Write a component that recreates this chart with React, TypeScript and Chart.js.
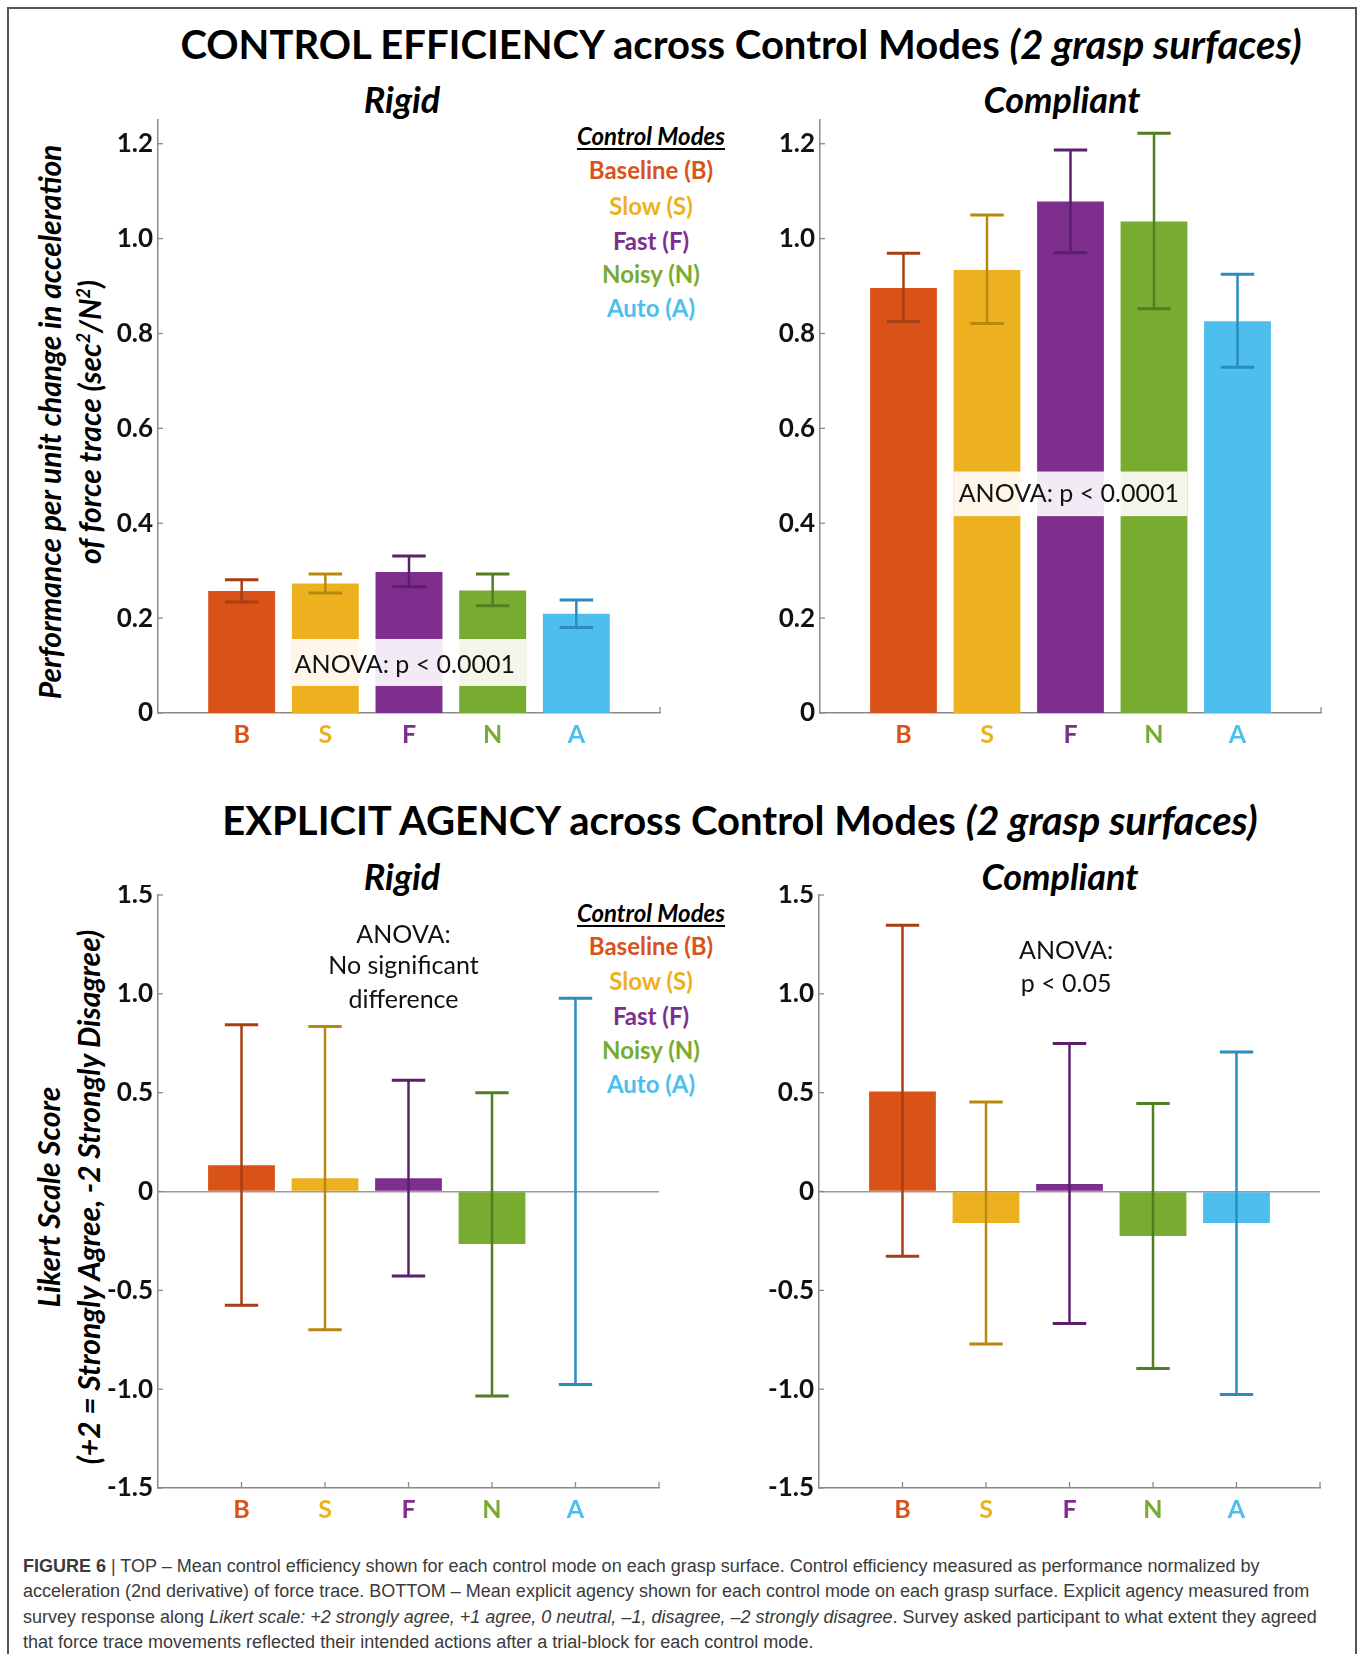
import React, { useEffect, useRef } from 'react';
import { Chart, registerables } from 'chart.js';

Chart.register(...registerables);

const FONT = 'Lato, "Open Sans", "Noto Sans", sans-serif';
const CAP_FONT = '"Liberation Sans", Arial, Helvetica, sans-serif';

// ---------- data ----------
const categories = ['B', 'S', 'F', 'N', 'A'];
const modeNames = ['Baseline (B)', 'Slow (S)', 'Fast (F)', 'Noisy (N)', 'Auto (A)'];
const modeColors = ['#D95319', '#EDB120', '#7E2F8E', '#77AC30', '#4DBEEE'];
const errColors = ['#A83F12', '#B8890F', '#5C1F6B', '#527E22', '#2B8CBE'];

const effTicks = [0, 0.2, 0.4, 0.6, 0.8, 1.0, 1.2];
const agTicks = [-1.5, -1.0, -0.5, 0, 0.5, 1.0, 1.5];

const effRigidMean = [0.257, 0.273, 0.297, 0.258, 0.209];
const effRigidLow = [0.234, 0.253, 0.266, 0.226, 0.180];
const effRigidHigh = [0.281, 0.293, 0.331, 0.293, 0.238];

const effCompMean = [0.896, 0.934, 1.078, 1.036, 0.826];
const effCompLow = [0.825, 0.821, 0.970, 0.852, 0.729];
const effCompHigh = [0.969, 1.050, 1.187, 1.222, 0.925];

const agRigidMean = [0.133, 0.067, 0.067, -0.265, 0.0];
const agRigidLow = [-0.575, -0.70, -0.428, -1.035, -0.976];
const agRigidHigh = [0.843, 0.835, 0.563, 0.50, 0.978];

const agCompMean = [0.506, -0.159, 0.038, -0.225, -0.159];
const agCompLow = [-0.327, -0.772, -0.668, -0.895, -1.027];
const agCompHigh = [1.347, 0.453, 0.749, 0.445, 0.706];

const effRigidNotes = [{ x: 2.95, y: 0.101, text: 'ANOVA: p < 0.0001' }];
const effRigidBoxes = [{ x0: 1.6, x1: 4.4, y0: 0.057, y1: 0.156 }];
const effCompNotes = [{ x: 2.98, y: 0.461, text: 'ANOVA: p < 0.0001' }];
const effCompBoxes = [{ x0: 1.6, x1: 4.4, y0: 0.415, y1: 0.509 }];
const agRigidNotes = [
  { x: 2.94, y: 1.30, text: 'ANOVA:' },
  { x: 2.94, y: 1.14, text: 'No significant' },
  { x: 2.94, y: 0.97, text: 'difference' },
];
const agCompNotes = [
  { x: 2.96, y: 1.217, text: 'ANOVA:' },
  { x: 2.96, y: 1.049, text: 'p < 0.05' },
];

const AXIS = '#8a8a8a';

type Note = { x: number; y: number; text: string };
type Box = { x0: number; x1: number; y0: number; y1: number };

type PanelProps = {
  left: number;
  top: number;
  width: number;
  height: number;
  yMin: number;
  yMax: number;
  yTicks: number[];
  mean: number[];
  low: number[];
  high: number[];
  zeroLine: boolean;
  notes: Note[];
  boxes: Box[];
};

function Panel(p: PanelProps) {
  const ref = useRef<HTMLCanvasElement>(null);
  useEffect(() => {
    if (!ref.current) return;
    const labels = ['', ...categories, ''];
    const chart = new Chart(ref.current, {
      type: 'bar',
      data: {
        labels,
        datasets: [
          {
            data: [null, ...p.mean, null] as any,
            backgroundColor: ['rgba(0,0,0,0)', ...modeColors, 'rgba(0,0,0,0)'],
            borderWidth: 0,
            barPercentage: 0.8,
            categoryPercentage: 1,
          },
        ],
      },
      options: {
        animation: false,
        responsive: false,
        maintainAspectRatio: false,
        devicePixelRatio: 1,
        events: [],
        layout: { padding: { left: 0, right: 10, top: 10, bottom: 0 } },
        plugins: { legend: { display: false }, tooltip: { enabled: false } },
        scales: {
          x: {
            type: 'category',
            offset: false,
            grid: { display: false, drawTicks: false },
            border: { display: true, color: AXIS, width: 1.5 },
            ticks: {
              autoSkip: false,
              maxRotation: 0,
              minRotation: 0,
              padding: 7,
              font: { family: FONT, size: 25, weight: 'bold' },
              color: (c: any) => modeColors[c.index - 1] ?? 'rgba(0,0,0,0)',
            },
            afterFit: (s: any) => {
              s.height = 50;
              s.paddingLeft = 0;
              s.paddingRight = 0;
            },
          },
          y: {
            min: p.yMin,
            max: p.yMax,
            grid: {
              display: p.zeroLine,
              drawTicks: false,
              lineWidth: 1.5,
              color: (c: any) => (c.tick && c.tick.value === 0 ? '#9a9a9a' : 'rgba(0,0,0,0)'),
            },
            border: { display: true, color: AXIS, width: 1.5 },
            ticks: {
              padding: 5,
              font: { family: FONT, size: 26, weight: 'bold' },
              color: '#111',
              callback: (v: any) => (Number(v) === 0 ? '0' : Number(v).toFixed(1)),
            },
            afterBuildTicks: (s: any) => {
              s.ticks = p.yTicks.map((v) => ({ value: v }));
            },
            afterFit: (s: any) => {
              s.width = 58;
              s.paddingTop = 0;
              s.paddingBottom = 0;
            },
          },
        },
      },
      plugins: [
        {
          id: 'inTicks',
          beforeDatasetsDraw(c: any) {
            const { ctx, chartArea, scales } = c;
            ctx.save();
            ctx.strokeStyle = AXIS;
            ctx.lineWidth = 1.3;
            for (const v of p.yTicks) {
              const py = scales.y.getPixelForValue(v);
              ctx.beginPath();
              ctx.moveTo(chartArea.left, py);
              ctx.lineTo(chartArea.left + 5, py);
              ctx.stroke();
            }
            for (let i = 1; i <= 6; i++) {
              const px = scales.x.getPixelForValue(i);
              ctx.beginPath();
              ctx.moveTo(px, chartArea.bottom);
              ctx.lineTo(px, chartArea.bottom - 6);
              ctx.stroke();
            }
            ctx.restore();
          },
        },
        {
          id: 'notesAndErr',
          afterDatasetsDraw(c: any) {
            const { ctx, scales } = c;
            const xs = scales.x;
            const ys = scales.y;
            ctx.save();
            for (const b of p.boxes) {
              const x0 = xs.getPixelForValue(b.x0);
              const x1 = xs.getPixelForValue(b.x1);
              const y0 = ys.getPixelForValue(b.y0);
              const y1 = ys.getPixelForValue(b.y1);
              ctx.fillStyle = 'rgba(255,255,255,0.9)';
              ctx.fillRect(x0, y1, x1 - x0, y0 - y1);
            }
            ctx.fillStyle = '#111';
            ctx.font = `25px ${FONT}`;
            ctx.textAlign = 'center';
            ctx.textBaseline = 'middle';
            for (const n of p.notes) {
              ctx.fillText(n.text, xs.getPixelForValue(n.x), ys.getPixelForValue(n.y));
            }
            for (let i = 0; i < p.mean.length; i++) {
              const cx = xs.getPixelForValue(i + 1);
              const xl = xs.getPixelForValue(i + 1 - 0.2);
              const xr = xs.getPixelForValue(i + 1 + 0.2);
              const yl = ys.getPixelForValue(p.low[i]);
              const yh = ys.getPixelForValue(p.high[i]);
              ctx.strokeStyle = errColors[i];
              ctx.lineWidth = 2.5;
              ctx.beginPath();
              ctx.moveTo(cx, yl);
              ctx.lineTo(cx, yh);
              ctx.stroke();
              ctx.lineWidth = 3;
              ctx.beginPath();
              ctx.moveTo(xl, yl);
              ctx.lineTo(xr, yl);
              ctx.moveTo(xl, yh);
              ctx.lineTo(xr, yh);
              ctx.stroke();
            }
            ctx.restore();
          },
        },
      ],
    } as any);
    return () => chart.destroy();
  }, []);
  return (
    <canvas
      ref={ref}
      width={p.width}
      height={p.height}
      style={{ position: 'absolute', left: p.left, top: p.top, width: p.width, height: p.height }}
    />
  );
}

type TProps = {
  x: number;
  y: number;
  size: number;
  bold?: boolean;
  italic?: boolean;
  color?: string;
  underline?: boolean;
  children: React.ReactNode;
};

function T({ x, y, size, bold = true, italic = false, color = '#000', underline = false, children }: TProps) {
  return (
    <div
      style={{
        position: 'absolute',
        left: x,
        top: y,
        transform: 'translate(-50%,-50%)',
        fontFamily: FONT,
        fontSize: size,
        fontWeight: bold ? 700 : 400,
        fontStyle: italic ? 'italic' : 'normal',
        color,
        lineHeight: 1,
        whiteSpace: 'nowrap',
        textDecoration: underline ? 'underline' : 'none',
        textUnderlineOffset: 3,
      }}
    >
      {children}
    </div>
  );
}

function Legend({ x, y0, ys }: { x: number; y0: number; ys: number[] }) {
  return (
    <>
      <T x={x} y={y0} size={24} italic underline>
        Control Modes
      </T>
      {modeNames.map((n, i) => (
        <T key={n} x={x} y={ys[i]} size={24} color={modeColors[i]}>
          {n}
        </T>
      ))}
    </>
  );
}

function YTitle({ x, y, lines }: { x: number; y: number; lines: React.ReactNode[] }) {
  return (
    <div
      style={{
        position: 'absolute',
        left: x,
        top: y,
        transform: 'translate(-50%,-50%) rotate(-90deg)',
        fontFamily: FONT,
        fontSize: 30,
        fontWeight: 700,
        fontStyle: 'italic',
        lineHeight: '40px',
        textAlign: 'center',
        whiteSpace: 'nowrap',
        color: '#000',
      }}
    >
      {lines.map((l, i) => (
        <div key={i}>{l}</div>
      ))}
    </div>
  );
}

export default function App() {
  const capLine: React.CSSProperties = { height: 25.3, lineHeight: '25.3px', whiteSpace: 'nowrap' };
  const sup: React.CSSProperties = { fontSize: '0.6em', lineHeight: 0 };
  return (
    <div
      style={{
        position: 'absolute',
        left: 0,
        top: 0,
        width: 1360,
        height: 1654,
        overflow: 'hidden',
        background: '#fff',
      }}
    >
      <div
        style={{
          position: 'absolute',
          left: 7,
          top: 7,
          width: 1346,
          height: 1700,
          borderLeft: '2px solid #555',
          borderTop: '2px solid #555',
          borderRight: '2px solid #555',
        }}
      />
      <T x={741} y={44} size={40}>
        CONTROL EFFICIENCY across Control Modes <i>(2 grasp surfaces)</i>
      </T>
      <T x={402} y={99} size={36} italic>
        Rigid
      </T>
      <T x={1062} y={99} size={36} italic>
        Compliant
      </T>
      <Legend x={651} y0={136} ys={[170, 206, 241, 274, 308]} />
      <YTitle
        x={69}
        y={422}
        lines={[
          'Performance per unit change in acceleration',
          <>
            of force trace (sec<sup style={sup}>2</sup>/N<sup style={sup}>2</sup>)
          </>,
        ]}
      />
      <Panel
        left={100}
        top={110}
        width={570}
        height={653}
        yMin={0}
        yMax={1.25}
        yTicks={effTicks}
        mean={effRigidMean}
        low={effRigidLow}
        high={effRigidHigh}
        zeroLine={false}
        notes={effRigidNotes}
        boxes={effRigidBoxes}
      />
      <Panel
        left={762}
        top={110}
        width={569}
        height={653}
        yMin={0}
        yMax={1.25}
        yTicks={effTicks}
        mean={effCompMean}
        low={effCompLow}
        high={effCompHigh}
        zeroLine={false}
        notes={effCompNotes}
        boxes={effCompBoxes}
      />

      <T x={740} y={820} size={40}>
        EXPLICIT AGENCY across Control Modes <i>(2 grasp surfaces)</i>
      </T>
      <T x={402} y={876} size={36} italic>
        Rigid
      </T>
      <T x={1060} y={876} size={36} italic>
        Compliant
      </T>
      <Legend x={651} y0={913} ys={[946, 981, 1016, 1050, 1084]} />
      <YTitle
        x={68}
        y={1197}
        lines={['Likert Scale Score', '(+2 = Strongly Agree, -2 Strongly Disagree)']}
      />
      <Panel
        left={100}
        top={885}
        width={569}
        height={653}
        yMin={-1.5}
        yMax={1.5}
        yTicks={agTicks}
        mean={agRigidMean}
        low={agRigidLow}
        high={agRigidHigh}
        zeroLine={true}
        notes={agRigidNotes}
        boxes={[]}
      />
      <Panel
        left={761}
        top={885}
        width={569}
        height={653}
        yMin={-1.5}
        yMax={1.5}
        yTicks={agTicks}
        mean={agCompMean}
        low={agCompLow}
        high={agCompHigh}
        zeroLine={true}
        notes={agCompNotes}
        boxes={[]}
      />

      <div
        style={{
          position: 'absolute',
          left: 23,
          top: 1554,
          fontFamily: CAP_FONT,
          fontSize: 18,
          color: '#3a3a3a',
        }}
      >
        <div style={capLine}>
          <b>FIGURE 6</b> | TOP – Mean control efficiency shown for each control mode on each grasp surface. Control
          efficiency measured as performance normalized by
        </div>
        <div style={capLine}>
          acceleration (2nd derivative) of force trace. BOTTOM – Mean explicit agency shown for each control mode on
          each grasp surface. Explicit agency measured from
        </div>
        <div style={capLine}>
          survey response along{' '}
          <i>Likert scale: +2 strongly agree, +1 agree, 0 neutral, –1, disagree, –2 strongly disagree</i>. Survey
          asked participant to what extent they agreed
        </div>
        <div style={capLine}>
          that force trace movements reflected their intended actions after a trial-block for each control mode.
        </div>
      </div>
    </div>
  );
}
